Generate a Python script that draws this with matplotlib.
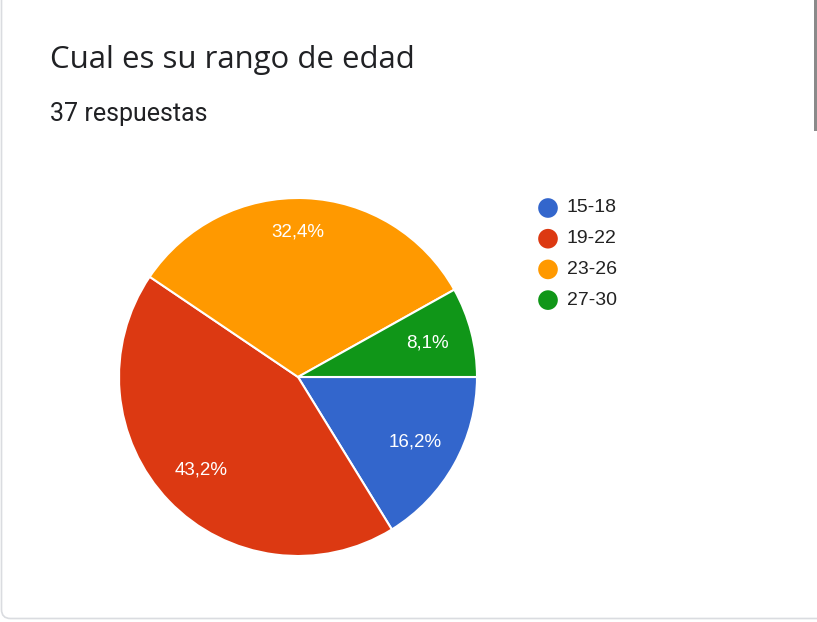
import matplotlib.pyplot as plt
from matplotlib.patches import FancyBboxPatch, Rectangle

# datos de la encuesta (37 respuestas)
categorias = ["15-18", "19-22", "23-26", "27-30"]
respuestas = [6, 16, 12, 3]
colores = ["#3366CC", "#DC3912", "#FF9900", "#109618"]

plt.rcParams['font.family'] = ['Roboto', 'DejaVu Sans']
arial = ["Liberation Sans", "DejaVu Sans"]

W, H = 817, 622
fig = plt.figure(figsize=(W / 100, H / 100), dpi=100)

# marco de la tarjeta (coordenadas en pixeles)
bg = fig.add_axes([0, 0, 1, 1])
bg.set_xlim(0, W)
bg.set_ylim(H, 0)
bg.axis("off")
bg.set_autoscale_on(False)
card = FancyBboxPatch((1.5, -40), W + 40, H - 2 + 40 - 1.5,
                      boxstyle="round,pad=0,rounding_size=9",
                      facecolor="white", edgecolor="#dadce0", linewidth=1.2)
bg.add_patch(card)
bg.add_patch(Rectangle((814.5, 0), 3, 131, facecolor="#8a8a8a", edgecolor="none"))

bg.text(50, 68, "Cual es su rango de edad", fontsize=22.4, color="#202124",
        va="baseline", ha="left", family=["Open Sans", "DejaVu Sans"])
bg.text(50, 121, "37 respuestas", fontsize=18, color="#202124",
        va="baseline", ha="left")

# leyenda
for i, (cat, col) in enumerate(zip(categorias, colores)):
    y = 208 + i * 30.7
    bg.scatter([548], [y], s=200, color=col, edgecolors="none")
    bg.text(567, y, cat, fontsize=14, color="#222222", va="center", ha="left",
            family=arial)


def etiqueta(pct):
    return f"{pct:.1f}%".replace(".", ",")


# pastel
ax = fig.add_axes([119 / W, (H - 556) / H, 358 / W, 358 / H])
wedges, texts, autotexts = ax.pie(
    respuestas, colors=colores, startangle=0, counterclock=False,
    autopct=etiqueta, pctdistance=0.75,
    wedgeprops={"edgecolor": "white", "linewidth": 1.5},
    textprops={"color": "white", "fontsize": 13.5, "family": arial})
autotexts[2].set_position((0, 0.81))
ax.set_xlim(-1, 1)
ax.set_ylim(-1, 1)
ax.set_aspect("equal")

fig.savefig("out.png", dpi=100)
